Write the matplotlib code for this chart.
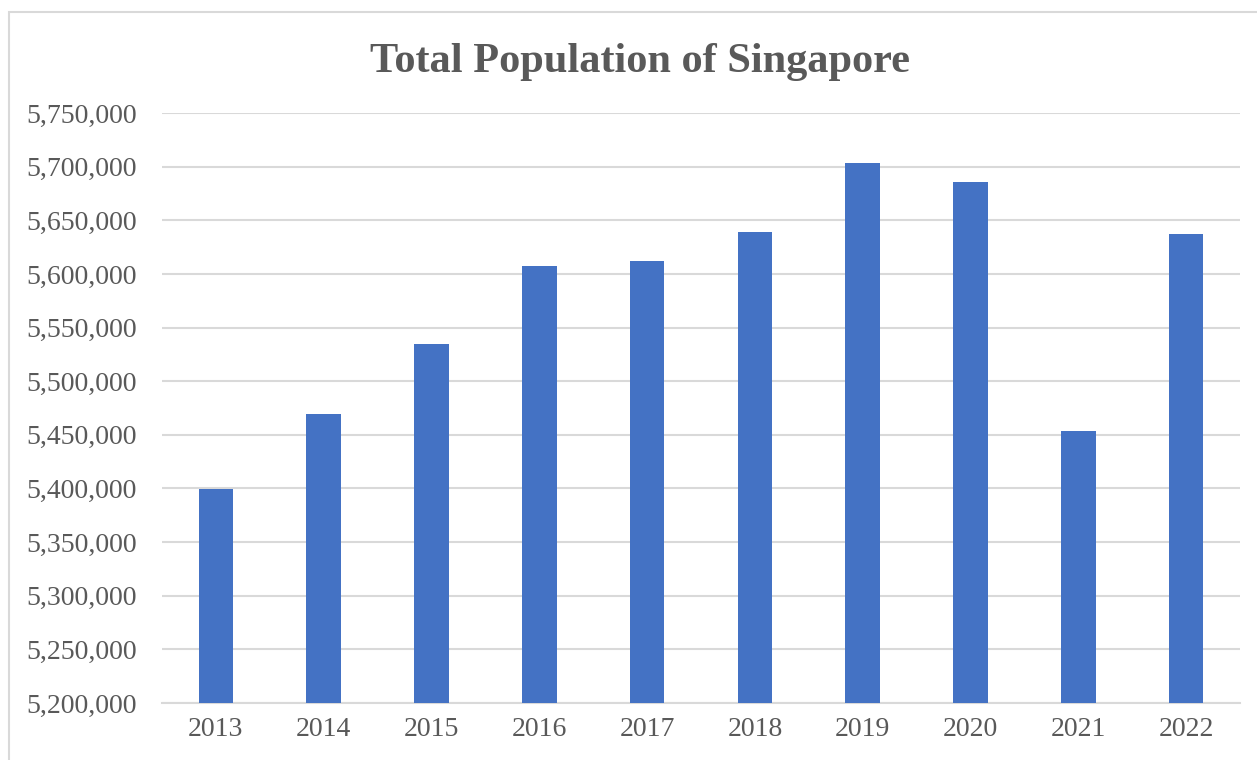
import matplotlib.pyplot as plt
from matplotlib.patches import Rectangle
from matplotlib.ticker import FuncFormatter, MultipleLocator

# Data
years = ['2013', '2014', '2015', '2016', '2017', '2018', '2019', '2020', '2021', '2022']
population = [5399200, 5469700, 5535000, 5607300, 5612300, 5638700, 5703600, 5685800, 5453600, 5637000]

plt.rcParams['font.family'] = ['Liberation Serif', 'DejaVu Serif']

fig = plt.figure(figsize=(12.57, 7.6), dpi=100)
ax = fig.add_axes([0.1289, 0.075, 0.8576, 0.7763])

# Chart border (cropped on the right and bottom)
fig.patches.append(Rectangle((9 / 1257, -0.1), 1.2, 1 - 12 / 760 + 0.1,
                             transform=fig.transFigure, fill=False,
                             edgecolor='#d9d9d9', linewidth=1.5))

x = range(len(years))
ax.bar(x, population, width=0.32, color='#4472c4', zorder=3)

ax.set_ylim(5200000, 5750000)
ax.set_xlim(-0.5, len(years) - 0.5)
ax.yaxis.set_major_locator(MultipleLocator(50000))
ax.yaxis.set_major_formatter(FuncFormatter(lambda v, p: f'{int(v):,}'))
ax.set_xticks(list(x))
ax.set_xticklabels(years)

ax.grid(axis='y', color='#d9d9d9', linewidth=1.5, zorder=0)
for s in ['top', 'right', 'left']:
    ax.spines[s].set_visible(False)
ax.spines['bottom'].set_color('#d9d9d9')
ax.spines['bottom'].set_linewidth(1.5)
ax.tick_params(length=0, labelsize=20, labelcolor='#595959')
ax.tick_params(axis='y', pad=18)
ax.tick_params(axis='x', pad=10)

fig.text(0.509, 0.918, 'Total Population of Singapore', ha='center', va='center',
         fontsize=30.5, fontweight='bold', color='#595959')

fig.savefig('out.png', dpi=100, facecolor='white')
